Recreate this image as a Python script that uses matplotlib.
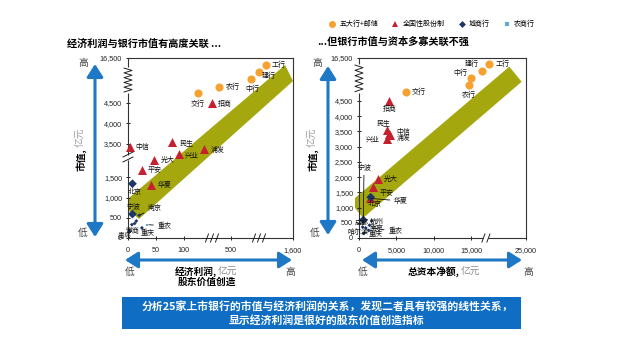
import numpy as np
import matplotlib
matplotlib.use('Agg')
import matplotlib.pyplot as plt
from matplotlib.lines import Line2D
from matplotlib.patches import Polygon, Rectangle, FancyArrowPatch

plt.rcParams['font.family'] = ['Liberation Sans', 'Noto Sans CJK SC', 'DejaVu Sans']
CJK = ['Noto Sans CJK SC', 'DejaVu Sans']

# ---------------- data ----------------
big_names = ['工行', '建行', '中行', '农行', '交行']
big_mv = [14750, 12900, 10800, 8900, 7100]          # 市值, 亿元
big_ep = [1120, 990, 860, 400, 220]                 # 经济利润, 亿元
big_cap = [17660, 16470, 14950, 14680, 6250]        # 总资本净额, 亿元

js_names = ['招商', '中信', '民生', '浦发', '兴业', '光大', '平安', '华夏']
js_mv = [4600, 3410, 3545, 3380, 3260, 1930, 1690, 1300]
js_ep = [337, 3, 80, 275, 92, 47, 25, 42]
js_cap = [4060, 4060, 3790, 4100, 3700, 2500, 1830, 1470]

city_names = ['北京', '宁波', '南京', '徽商', '青岛', '成都', '杭州', '哈尔滨', '重庆']
city_mv = [1340, 590, 560, 330, 160, 360, 420, 150, 250]
city_ep = [8, 8, 20, 7, 3, 12, 15, 2, 25]
city_cap = [1570, 580, 1700, 900, 700, 500, 1400, 600, 1300]

rural_names = ['重农']
rural_mv = [330]
rural_ep = [35]
rural_cap = [1900]

left_yticks = [0, 500, 1000, 1500, 3500, 4000, 4500, 16500]
right_yticks = [0, 500, 1000, 1500, 2000, 2500, 3000, 3500, 4000, 4500, 16500]
left_xticks = [0, 50, 100, 500, 1600]
right_xticks = [0, 5000, 10000, 15000, 25000]

legend_labels = ['五大行+邮储', '全国性股份制', '城商行', '农商行']

# ---------------- styles ----------------
C_ORANGE = '#F7A130'
C_RED = '#C4202E'
C_NAVY = '#1C3766'
C_LBLUE = '#5FA8DC'
C_BAND = '#A4A80E'
C_ARROW = '#1F78C6'
C_BOX = '#0F6EC3'

W, H = 625, 356
fig = plt.figure(figsize=(W / 100, H / 100), dpi=100)
fig.patch.set_facecolor('white')


def fx(x):
    return x / W


def fy(y):
    return 1 - y / H


def piecewise(xp, fp):
    xp = np.asarray(xp, float)
    fp = np.asarray(fp, float)

    def _map(v, a, b):
        v = np.asarray(v, float)
        out = np.interp(v, a, b)
        s0 = (b[1] - b[0]) / (a[1] - a[0])
        s1 = (b[-1] - b[-2]) / (a[-1] - a[-2])
        out = np.where(v < a[0], b[0] + (v - a[0]) * s0, out)
        out = np.where(v > a[-1], b[-1] + (v - a[-1]) * s1, out)
        return out
    return (lambda v: _map(v, xp, fp)), (lambda u: _map(u, fp, xp))


def fmt(v):
    return f'{v:,}'


axL = fig.add_axes([fx(128), fy(238), (293 - 128) / W, 180 / H])
axR = fig.add_axes([fx(359), fy(238), (526 - 359) / W, 180 / H])

axL.set_xscale('function', functions=piecewise([0, 100, 500, 1600], [0, 55.6, 103, 165]))
axL.set_yscale('function', functions=piecewise([0, 2000, 3200, 4500, 16500], [0, 81, 82, 135, 180]))
axR.set_xscale('function', functions=piecewise([0, 17000, 25000], [0, 127, 167]))
axR.set_yscale('function', functions=piecewise([0, 4500, 16500], [0, 137, 180]))

axL.set_xlim(0, 1600)
axL.set_ylim(0, 16500)
axR.set_xlim(0, 25000)
axR.set_ylim(0, 16500)

for ax, xt, yt in [(axL, left_xticks, left_yticks), (axR, right_xticks, right_yticks)]:
    ax.set_xticks(xt)
    ax.set_xticklabels([fmt(v) for v in xt])
    ax.set_yticks(yt)
    ax.set_yticklabels([fmt(v) for v in yt])
    ax.minorticks_off()
    ax.tick_params(direction='inout', length=3.5, width=0.7, labelsize=5.2, pad=2.5, colors='#222222')
    ax.tick_params(axis='x', pad=4.5)
    for s in ax.spines.values():
        s.set_color('#333333')
        s.set_linewidth(0.8)
    ax.set_facecolor('none')

# ---------------- bands ----------------
bandL = [(0, 0.156), (0, 0.218), (0.952, 0.961), (1.0, 0.872), (0.067, 0.106)]
bandR = [(-0.024, 0.167), (-0.024, 0.222), (0.900, 0.952), (0.974, 0.868), (0.024, 0.111)]
axL.add_patch(Polygon(bandL, closed=True, transform=axL.transAxes, facecolor=C_BAND,
                      edgecolor='none', zorder=1, clip_on=False))
axR.add_patch(Polygon(bandR, closed=True, transform=axR.transAxes, facecolor=C_BAND,
                      edgecolor='none', zorder=1, clip_on=False))

# ---------------- scatter ----------------
S_BIG, S_JS = 34, 42
city_sizes = [20, 20, 4, 4, 4, 4, 4, 4, 4]
for ax, bx, jx, cx, rx in [(axL, big_ep, js_ep, city_ep, rural_ep),
                           (axR, big_cap, js_cap, city_cap, rural_cap)]:
    ax.scatter(bx, big_mv, s=S_BIG, marker='o', color=C_ORANGE, zorder=3, linewidths=0, clip_on=False)
    ax.scatter(jx, js_mv, s=S_JS, marker='^', color=C_RED, zorder=3, linewidths=0, clip_on=False)
    ax.scatter(cx, city_mv, s=city_sizes, marker='D', color=C_NAVY, zorder=3, linewidths=0, clip_on=False)
    ax.scatter(rx, rural_mv, s=4, marker='s', color=C_LBLUE, zorder=3, linewidths=0, clip_on=False)

# label offsets in pixels (dx, dy up, ha, leader)
offL = {
    '工行': (6, 0, 'left', False), '建行': (3, -4.5, 'left', False), '中行': (1, -9.5, 'center', False),
    '农行': (7, 0, 'left', False), '交行': (0, -10.5, 'center', False), '招商': (6.5, -1, 'left', False),
    '中信': (6, 0, 'left', False), '民生': (7, -1, 'left', False), '浦发': (6, -1, 'left', False),
    '兴业': (6, -2, 'left', False), '光大': (7, 0, 'left', False), '平安': (6, 0, 'left', False),
    '华夏': (6.5, 0, 'left', False), '北京': (2, -8.5, 'center', False), '宁波': (1, 8.5, 'center', False),
    '南京': (9, 7.5, 'left', True), '徽商': (1, -6.4, 'center', False), '青岛': (-5.4, -4.5, 'center', False),
    '重庆': (5.4, -5.4, 'center', False), '重农': (10, -1.2, 'left', True),
}
offR = {
    '工行': (6, 0, 'left', False), '建行': (-10, 6.7, 'center', False), '中行': (-10.7, 5.6, 'center', False),
    '农行': (0, -9.7, 'center', False), '交行': (6, 0, 'left', False), '招商': (0, -8.5, 'center', False),
    '民生': (-4, 6.5, 'center', False), '中信': (7, 2, 'left', False), '浦发': (7, -3, 'left', False),
    '兴业': (-7, -1, 'right', False), '光大': (6, 0, 'left', False), '平安': (7, -6, 'left', False),
    '华夏': (24, -2.5, 'left', True), '北京': (4.3, -7, 'center', False), '宁波': (0.7, 53, 'center', True),
    '南京': (5, -7.5, 'center', False), '成都': (-1, 4, 'center', False), '杭州': (7, 3, 'center', False),
    '哈尔滨': (-5.2, 1.7, 'center', False), '重庆': (7.3, -4, 'center', False), '重农': (15, -3.7, 'left', True),
}


def put_labels(ax, names, xs, ys, offs):
    for n, x, y in zip(names, xs, ys):
        if n not in offs:
            continue
        dx, dy, ha, lead = offs[n]
        kw = dict(textcoords='offset points', xytext=(dx * 0.72, dy * 0.72), ha=ha, va='center',
                  fontsize=5, family=CJK, color='#111111', zorder=6, annotation_clip=False)
        if lead:
            kw['arrowprops'] = dict(arrowstyle='-', lw=0.6, color='#111111', shrinkA=1, shrinkB=1)
        ax.annotate(n, (x, y), **kw)


for ax, off, bx, jx, cx, rx in [(axL, offL, big_ep, js_ep, city_ep, rural_ep),
                                (axR, offR, big_cap, js_cap, city_cap, rural_cap)]:
    put_labels(ax, big_names, bx, big_mv, off)
    put_labels(ax, js_names, jx, js_mv, off)
    put_labels(ax, city_names, cx, city_mv, off)
    put_labels(ax, rural_names, rx, rural_mv, off)

# ---------------- axis breaks ----------------


def zigzag(ax, y0, y1, wpx, hpx):
    w = 4.0 / wpx
    n = 11
    ys = np.linspace(y0, y1, n)
    xs = np.array([-w if i % 2 == 0 else w for i in range(n)])
    ax.plot([0, 0], [y0 - 0.005, y1 + 0.005], transform=ax.transAxes, color='white', lw=2.5,
            zorder=6, clip_on=False, solid_capstyle='butt')
    ax.plot(xs, ys, transform=ax.transAxes, color='#222222', lw=0.7, zorder=7, clip_on=False)


def ybreak(ax, yc, wpx, hpx):
    dx = 5.0 / wpx
    dy = 2.5 / hpx
    g = 2.5 / hpx
    ax.plot([0, 0], [yc - g, yc + g], transform=ax.transAxes, color='white', lw=2.5, zorder=6,
            clip_on=False, solid_capstyle='butt')
    for s in (-g, g):
        ax.plot([-dx, dx], [yc + s - dy, yc + s + dy], transform=ax.transAxes, color='#222222',
                lw=0.7, zorder=7, clip_on=False)


def xbreak(ax, xc, wpx, hpx, n=2):
    dx = 1.5 / wpx
    dy = 4.0 / hpx
    g = 2.5 / wpx
    offs = [(-g if n == 2 else -2 * g) + i * 2 * g for i in range(n)]
    ax.plot([xc + offs[0], xc + offs[-1]], [0, 0], transform=ax.transAxes, color='white', lw=2.5,
            zorder=6, clip_on=False, solid_capstyle='butt')
    for o in offs:
        ax.plot([xc + o - dx, xc + o + dx], [-dy, dy], transform=ax.transAxes, color='#222222',
                lw=0.7, zorder=7, clip_on=False)
    if n == 3:
        ax.plot([xc + offs[0], xc + offs[-1]], [0, 0], transform=ax.transAxes, color='#222222',
                lw=0.7, zorder=7, clip_on=False)


zigzag(axL, 0.811, 0.944, 165, 180)
zigzag(axR, 0.813, 0.961, 167, 180)
ybreak(axL, 0.45, 165, 180)
xbreak(axL, 0.509, 165, 180, n=3)
xbreak(axL, 0.794, 165, 180, n=3)
xbreak(axR, 0.760, 167, 180, n=2)

# ---------------- arrows ----------------


def arrow(x0, y0, x1, y1):
    fig.add_artist(FancyArrowPatch((fx(x0), fy(y0)), (fx(x1), fy(y1)), transform=fig.transFigure,
                                   arrowstyle='<|-|>,head_length=0.55,head_width=0.35',
                                   mutation_scale=14, lw=2.2, color=C_ARROW, shrinkA=0, shrinkB=0))


arrow(95, 237, 95, 64)
arrow(328, 235, 328, 66)
arrow(125, 260, 292, 260)
arrow(362, 260, 522, 260)

# ---------------- texts ----------------
tk = dict(family=CJK, ha='center', va='center')
for (x, y, t) in [(83, 63, '高'), (83, 233, '低'), (317, 63, '高'), (315, 233, '低'),
                  (130, 272, '低'), (290, 272, '高'), (363, 272, '低'), (528, 272, '高')]:
    fig.text(fx(x), fy(y), t, fontsize=7, color='#444444', style='italic', **tk)

# y labels
for x in (81, 313):
    fig.text(fx(x), fy(160), '市值,', fontsize=7, color='black', weight='bold', rotation=90, **tk)
    fig.text(fx(x), fy(137), '亿元', fontsize=7, color='#9A9A9A', rotation=90, **tk)

# x labels
fig.text(fx(217), fy(271.5), '经济利润,', fontsize=7, color='black', weight='bold',
         family=CJK, ha='right', va='center')
fig.text(fx(218), fy(271.5), '亿元', fontsize=7, color='#8A8A8A', family=CJK, ha='left', va='center')
fig.text(fx(207), fy(282), '股东价值创造', fontsize=7, color='black', weight='bold', **tk)
fig.text(fx(460), fy(271.5), '总资本净额,', fontsize=7, color='black', weight='bold',
         family=CJK, ha='right', va='center')
fig.text(fx(461), fy(271.5), '亿元', fontsize=7, color='#8A8A8A', family=CJK, ha='left', va='center')

# titles
fig.text(fx(67), fy(44), '经济利润与银行市值有高度关联 ...', fontsize=7.3, weight='bold',
         family=CJK, ha='left', va='center', color='black')
fig.text(fx(317), fy(42), '...但银行市值与资本多寡关联不强', fontsize=7.3, weight='bold',
         family=CJK, ha='left', va='center', color='black')

# legend
handles = [Line2D([], [], marker='o', ls='none', color=C_ORANGE, ms=5, mew=0),
           Line2D([], [], marker='^', ls='none', color=C_RED, ms=5, mew=0),
           Line2D([], [], marker='D', ls='none', color=C_NAVY, ms=3.5, mew=0),
           Line2D([], [], marker='s', ls='none', color=C_LBLUE, ms=3.5, mew=0)]
fig.legend(handles, legend_labels, loc='center', bbox_to_anchor=(fx(432), fy(24)), ncol=4,
           frameon=False, prop={'family': CJK, 'size': 5}, handlelength=1.0, handletextpad=0.5,
           columnspacing=2.0, borderpad=0)

# bottom box
fig.add_artist(Rectangle((fx(122), fy(329)), (521 - 122) / W, 32 / H, transform=fig.transFigure,
                         facecolor=C_BOX, edgecolor='none'))
fig.text(fx(327), fy(307), '分析25家上市银行的市值与经济利润的关系，发现二者具有较强的线性关系，',
         fontsize=7.8, color='white', weight='bold', **tk)
fig.text(fx(327), fy(320), '显示经济利润是很好的股东价值创造指标',
         fontsize=7.8, color='white', weight='bold', **tk)

fig.savefig('out.png', dpi=100, facecolor='white')
